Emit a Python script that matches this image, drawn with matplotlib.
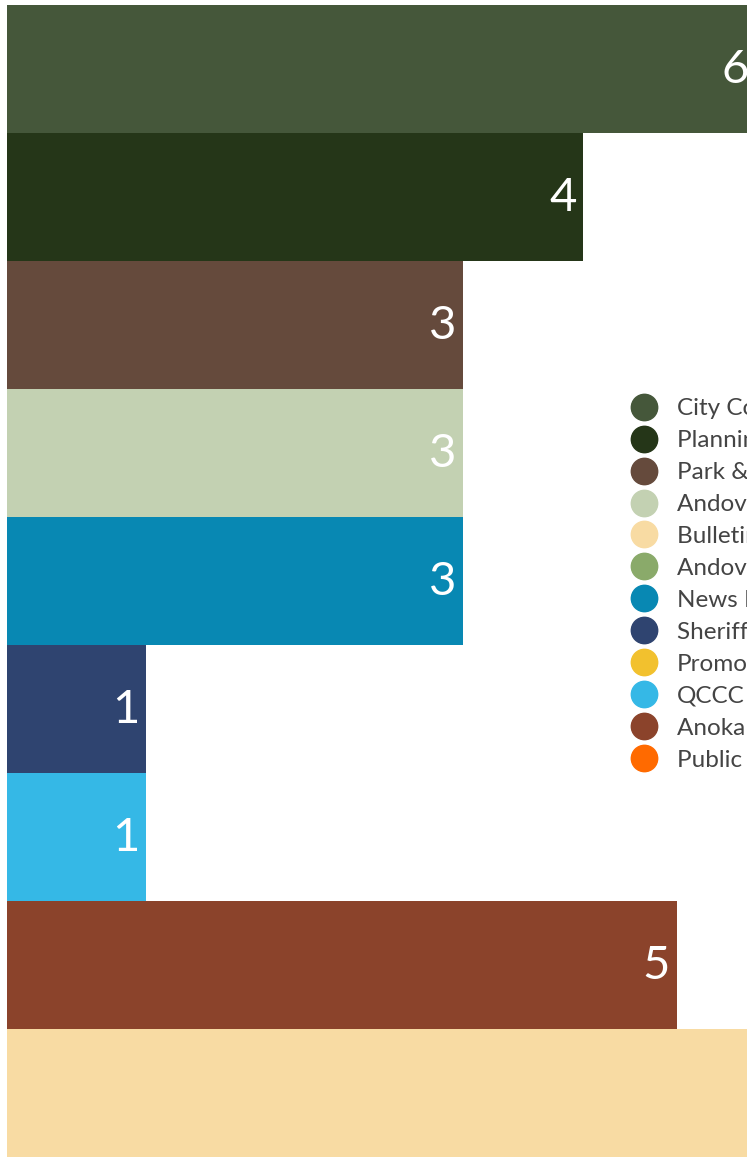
import matplotlib.pyplot as plt
from matplotlib.lines import Line2D

plt.rcParams['font.family'] = ['Lato', 'DejaVu Sans']

# bars, top to bottom
bar_names = ["City Council", "Planning Commission", "Park & Recreation", "Andover Today",
             "News Releases", "Sheriff's Office", "QCCC", "Anoka County", "Bulletin Board"]
bar_values = [5.55, 4.27, 3.38, 3.38, 3.38, 1.03, 1.03, 4.96, 6.6]
bar_colors = ["#45573A", "#253618", "#654A3C", "#C3D1B2", "#0888B3",
              "#2F4470", "#35B8E6", "#8B432B", "#F8DBA3"]

# legend entries
legend_names = ["City Council", "Planning Commission", "Park & Recreation", "Andover Today",
                "Bulletin Board", "Andover Newsletter", "News Releases", "Sheriff's Office",
                "Promotions", "QCCC", "Anoka County", "Public Works"]
legend_colors = ["#45573A", "#253618", "#654A3C", "#C3D1B2", "#F8DBA3", "#8AAA6A",
                 "#0888B3", "#2F4470", "#F2C12E", "#35B8E6", "#8B432B", "#FF6A00"]

W, H = 747, 1157
fig = plt.figure(figsize=(W / 100, H / 100), dpi=100)
ax = fig.add_axes([7 / W, 0, 1 - 7 / W, (H - 5) / H])

n = len(bar_values)
ypos = list(range(n))
ax.barh(ypos, bar_values, height=1.0, color=bar_colors, zorder=1)
ax.set_ylim(n - 0.5, -0.5)
ax.set_xlim(0, 740 / 135)
ax.axis('off')

for y, v in zip(ypos, bar_values):
    ax.annotate(f"{v:.0f}", xy=(v, y), xytext=(-5, -1), textcoords='offset points',
                ha='right', va='center', color='white', fontsize=34,
                annotation_clip=False)

handles = [Line2D([], [], marker='o', linestyle='none', markersize=19,
                  markerfacecolor=c, markeredgecolor=c) for c in legend_colors]
fig.legend(handles, legend_names, loc='upper left', bbox_to_anchor=(617 / W, 1 - 386 / H),
           frameon=False, fontsize=17.5, labelspacing=0.45, handletextpad=0.75,
           borderpad=0, handlelength=1.2, labelcolor='#444444')

fig.savefig('out.png', dpi=100)
